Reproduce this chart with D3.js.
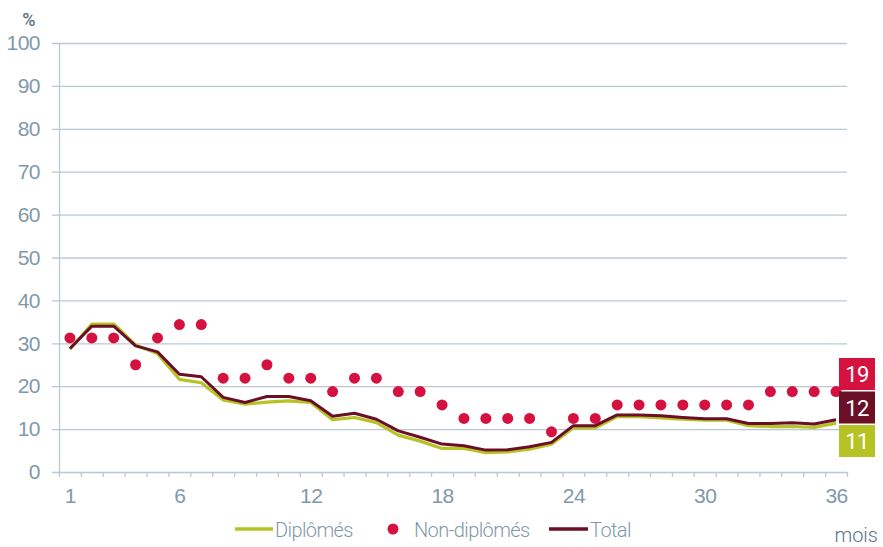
<!DOCTYPE html>
<html>
<head>
<meta charset="utf-8">
<script src="https://cdn.jsdelivr.net/npm/d3@7"></script>
<style>
  body { margin: 0; background: #fff; }
  svg { font-family: Roboto, "Liberation Sans", sans-serif; font-weight: 300; }
</style>
</head>
<body>
<svg id="canvas" width="883" height="547"></svg>
<script>
// months 1..36
let months = d3.range(1, 37)
let monthLabels = [1, 6, 12, 18, 24, 30, 36]
let yTicks = [0, 10, 20, 30, 40, 50, 60, 70, 80, 90, 100]

let diplomes = [28.6, 34.5, 34.5, 29.6, 27.6, 21.6, 20.8, 16.8, 15.8, 16.3, 16.6, 16.2,
  12.2, 12.7, 11.5, 8.6, 7.2, 5.5, 5.5, 4.5, 4.7, 5.3, 6.5, 10.3,
  10.3, 12.9, 12.9, 12.6, 12.3, 12.1, 12.1, 10.8, 10.6, 10.6, 10.4, 11.4]
let nonDiplomes = [31.25, 31.25, 31.25, 25, 31.25, 34.375, 34.375, 21.875, 21.875, 25, 21.875, 21.875,
  18.75, 21.875, 21.875, 18.75, 18.75, 15.625, 12.5, 12.5, 12.5, 12.5, 9.375, 12.5,
  12.5, 15.625, 15.625, 15.625, 15.625, 15.625, 15.625, 15.625, 18.75, 18.75, 18.75, 18.75]
let total = [28.8, 34.0, 34.0, 29.4, 28.0, 22.8, 22.2, 17.4, 16.2, 17.6, 17.6, 16.6,
  13.0, 13.7, 12.3, 9.6, 8.1, 6.5, 6.1, 5.1, 5.2, 5.9, 6.9, 10.8,
  10.8, 13.3, 13.3, 13.1, 12.7, 12.4, 12.4, 11.3, 11.3, 11.5, 11.2, 12.2]

let endLabels = [
  { text: '19', color: '#d5123f' },
  { text: '12', color: '#6a0f25' },
  { text: '11', color: '#b5c424' }
]

let colGreen = '#b5c424'
let colRed = '#d5123f'
let colMaroon = '#6a0f25'
let colAxis = '#bcc8d0'
let colText = '#7f99aa'

let canvas = d3.select('#canvas')

let x = d3.scaleLinear().domain([0.5, 36.5]).range([59, 847])
let y = d3.scaleLinear().domain([0, 100]).range([472, 43])

// gridlines + y labels
let yAxis = d3.axisLeft(y).tickValues(yTicks).tickSize(-(847 - 52)).tickSizeOuter(0).tickPadding(12)
let gy = canvas.append('g').attr('transform', 'translate(52,0)').call(yAxis)
gy.select('.domain').remove()
gy.selectAll('line').attr('stroke', colAxis).attr('stroke-width', 1.3)
gy.selectAll('text').attr('fill', colText).attr('font-size', 21).attr('letter-spacing', -0.5)

// vertical axis line
canvas.append('line')
  .attr('x1', 59.5).attr('x2', 59.5).attr('y1', y(100)).attr('y2', y(0))
  .attr('stroke', colAxis).attr('stroke-width', 1.3)

// x tick marks at month boundaries
let edges = d3.range(0.5, 37, 1)
let xAxisTicks = d3.axisBottom(x).tickValues(edges).tickSize(5).tickFormat('')
let gx = canvas.append('g').attr('transform', 'translate(0,472)').call(xAxisTicks)
gx.select('.domain').remove()
gx.selectAll('line').attr('stroke', colAxis).attr('stroke-width', 1.3)

let xAxisLabels = d3.axisBottom(x).tickValues(monthLabels).tickSize(0).tickPadding(16)
let gxl = canvas.append('g').attr('transform', 'translate(0,472)').call(xAxisLabels)
gxl.select('.domain').remove()
gxl.selectAll('text').attr('fill', colText).attr('font-size', 21).attr('letter-spacing', -0.5)

// lines
let line = d3.line()
  .x((d, i) => x(months[i]))
  .y(d => y(d))

canvas.append('path')
  .datum(diplomes)
  .attr('d', line)
  .attr('fill', 'none')
  .attr('stroke', colGreen)
  .attr('stroke-width', 3.2)
  .attr('stroke-linejoin', 'round')

canvas.append('path')
  .datum(total)
  .attr('d', line)
  .attr('fill', 'none')
  .attr('stroke', colMaroon)
  .attr('stroke-width', 3)
  .attr('stroke-linejoin', 'round')

canvas.selectAll('circle.nd')
  .data(nonDiplomes)
  .enter()
  .append('circle')
  .attr('class', 'nd')
  .attr('cx', (d, i) => x(months[i]))
  .attr('cy', d => y(d))
  .attr('r', 5.5)
  .attr('fill', colRed)

// end value boxes
let boxes = canvas.selectAll('g.box')
  .data(endLabels)
  .enter()
  .append('g')
  .attr('class', 'box')
  .attr('transform', (d, i) => 'translate(839,' + (358 + i * 33.5) + ')')
boxes.append('rect')
  .attr('width', 36).attr('height', 32)
  .attr('fill', d => d.color)
boxes.append('text')
  .attr('x', 18).attr('y', 24)
  .attr('text-anchor', 'middle')
  .attr('fill', '#fff')
  .attr('font-size', 22)
  .attr('font-weight', 400)
  .attr('letter-spacing', -0.5)
  .text(d => d.text)

// axis titles
canvas.append('text')
  .attr('x', 29).attr('y', 26)
  .attr('text-anchor', 'middle')
  .attr('fill', '#5b7384')
  .attr('font-size', 18)
  .attr('font-weight', 500)
  .text('%')

canvas.append('text')
  .attr('x', 878).attr('y', 542)
  .attr('text-anchor', 'end')
  .attr('fill', '#5b7384')
  .attr('font-size', 20)
  .text('mois')

// legend
let legend = canvas.append('g').attr('font-size', 20).attr('fill', colText).attr('letter-spacing', -0.6)
legend.append('line')
  .attr('x1', 235).attr('x2', 273).attr('y1', 529).attr('y2', 529)
  .attr('stroke', colGreen).attr('stroke-width', 3.5)
legend.append('text').attr('x', 275).attr('y', 537).text('Diplômés')
legend.append('circle')
  .attr('cx', 393).attr('cy', 529).attr('r', 5.5).attr('fill', colRed)
legend.append('text').attr('x', 414).attr('y', 537).text('Non-diplômés')
legend.append('line')
  .attr('x1', 549).attr('x2', 588).attr('y1', 529).attr('y2', 529)
  .attr('stroke', colMaroon).attr('stroke-width', 3.5)
legend.append('text').attr('x', 590).attr('y', 537).text('Total')
</script>
</body>
</html>
